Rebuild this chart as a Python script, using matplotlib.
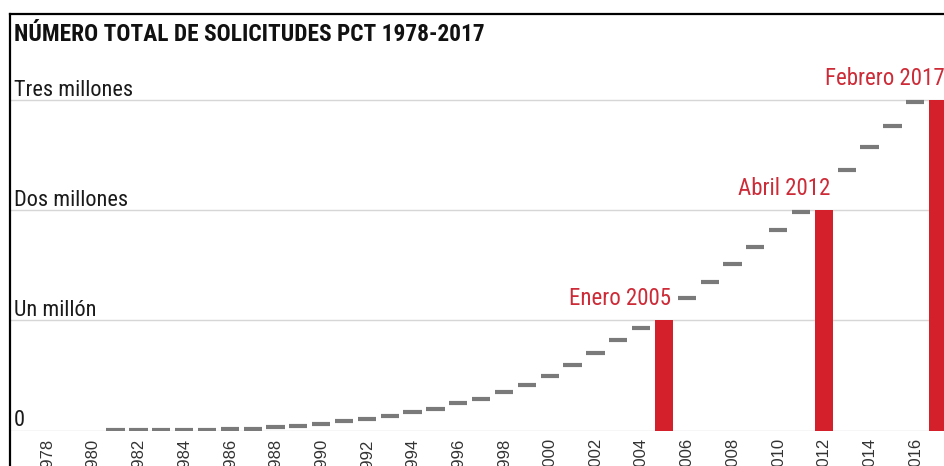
import matplotlib
matplotlib.use("Agg")
import matplotlib.pyplot as plt
import matplotlib.transforms as mtransforms
from matplotlib.lines import Line2D
import numpy as np

# Cumulative PCT applications (millions), one grey step per year
dash_years = [1981, 1982, 1983, 1984, 1985, 1986, 1987, 1988, 1989, 1990,
              1991, 1992, 1993, 1994, 1995, 1996, 1997, 1998, 1999, 2000,
              2001, 2002, 2003, 2004, 2006, 2007, 2008, 2009, 2010, 2011,
              2013, 2014, 2015, 2016]
dash_values = [0.001, 0.002, 0.003, 0.005, 0.007, 0.011, 0.016, 0.029, 0.041, 0.062,
               0.083, 0.104, 0.131, 0.165, 0.195, 0.247, 0.290, 0.347, 0.416, 0.498,
               0.598, 0.705, 0.816, 0.925, 1.198, 1.350, 1.505, 1.665, 1.820, 1.980,
               2.360, 2.570, 2.765, 2.980]

# Milestones
milestone_years = [2005, 2012, 2017]
milestone_values = [1.0, 2.0, 3.0]
milestone_labels = ["Enero 2005", "Abril 2012", "Febrero 2017"]

y_ticks = [0, 1, 2, 3]
y_labels = ["0", "Un millón", "Dos millones", "Tres millones"]
x_ticks = list(range(1978, 2017, 2))
x_labels = [str(y) for y in x_ticks]

title = "NÚMERO TOTAL DE SOLICITUDES PCT 1978-2017"

RED = "#d4202a"
RED_TEXT = "#cc2b37"
GREY = "#7a7a7a"
NARROW = ["Roboto Condensed", "Roboto", "DejaVu Sans"]

W, H = 945, 466
fig = plt.figure(figsize=(W / 100, H / 100), dpi=100)
fig.patch.set_facecolor("white")

# axes: x from px 10 to 945, y=0 at px 430.5, top at px 14
ax = fig.add_axes([10 / W, (H - 430.5) / H, 935 / W, (430.5 - 14) / H])
px_per_year = 22.85
ax.set_xlim(1978 + (10 - 47) / px_per_year, 1978 + (945 - 47) / px_per_year)
ax.set_ylim(0, (430.5 - 14) / 110.3)
for s in ax.spines.values():
    s.set_visible(False)

# horizontal guides
ax.set_yticks(y_ticks)
ax.set_yticklabels([])
ax.tick_params(axis="y", length=0)
ax.grid(axis="y", color="#d6d6d6", linewidth=1.0)
ax.grid(axis="x", visible=False)
ax.set_axisbelow(True)

# y labels sitting just above each guide
lab_tr = mtransforms.offset_copy(
    mtransforms.blended_transform_factory(fig.transFigure, ax.transData),
    fig=fig, x=0, y=4, units="dots")
for v, lab in zip(y_ticks, y_labels):
    ax.text(14 / W, v, lab, transform=lab_tr, ha="left", va="baseline",
            fontsize=16, family=NARROW, color="#1a1a1a")

# yearly steps
dy = np.array(dash_years, dtype=float)
ax.hlines(dash_values, dy - 0.4, dy + 0.4, colors=GREY, linewidth=3.0, zorder=3)

# milestone bars
ax.bar(milestone_years, milestone_values, width=0.8, color=RED, zorder=3)
ann_tr = mtransforms.offset_copy(ax.transData, fig=fig, x=0, y=15, units="dots")
for yr, v, lab in zip(milestone_years, milestone_values, milestone_labels):
    ax.text(yr + 0.3, v, lab, transform=ann_tr, ha="right", va="baseline",
            fontsize=16.5, family=NARROW, color=RED_TEXT, zorder=4)

# year labels
ax.set_xticks(x_ticks)
ax.set_xticklabels(x_labels, rotation=90, fontsize=12,
                   family=["Liberation Sans", "DejaVu Sans"], color="#333333")
ax.tick_params(axis="x", length=0, pad=5.5)

# title
fig.text(14 / W, 1 - 41 / H, title, ha="left", va="baseline",
         fontsize=16.8, fontweight="bold", family=NARROW, color="#111111")

# frame: top and left rules
fig.add_artist(Line2D([10 / W, 1], [1 - 14 / H, 1 - 14 / H],
                      transform=fig.transFigure, color="black", linewidth=1.6))
fig.add_artist(Line2D([10 / W, 10 / W], [1 - 14 / H, 0],
                      transform=fig.transFigure, color="black", linewidth=1.6))

fig.savefig("out.png", dpi=100, facecolor="white")
